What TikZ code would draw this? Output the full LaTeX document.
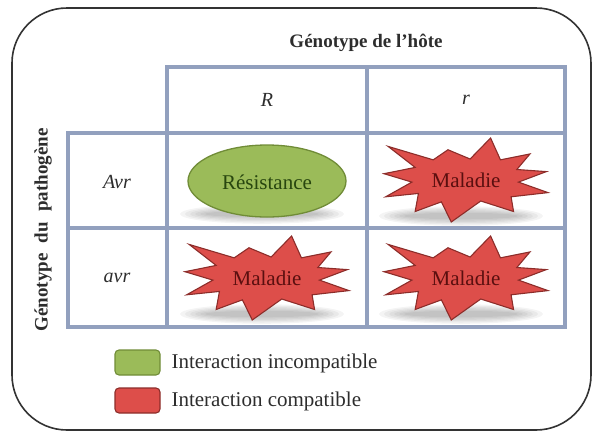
\documentclass[tikz,border=0pt]{standalone}
\usepackage{fontspec}
\setmainfont{Liberation Serif}
\usepackage{tikz}
\usepackage{xcolor}

\definecolor{grille}{RGB}{146,160,190}
\definecolor{vertR}{RGB}{155,187,89}
\definecolor{vertB}{RGB}{112,140,55}
\definecolor{vertT}{RGB}{40,70,15}
\definecolor{rougeR}{RGB}{221,78,74}
\definecolor{rougeB}{RGB}{140,45,42}
\definecolor{rougeT}{RGB}{90,15,15}
\definecolor{texte}{RGB}{45,45,45}

\begin{document}
\begin{tikzpicture}[x=1pt, y=-1pt,
    grille/.style={draw=grille, line width=3.2pt},
    titre/.style={font=\bfseries\fontsize{19}{19}\selectfont, text=texte},
    etiq/.style={font=\itshape\fontsize{20}{20}\selectfont, text=texte},
    legende/.style={font=\fontsize{21}{21}\selectfont, text=texte, anchor=west},
    ombre/.style={fill=black, opacity=0.045}]
\useasboundingbox (0,0) rectangle (595,432);

% Cadre arrondi
\draw[line width=1.6pt, draw=black!80, rounded corners=55pt] (12,8) rectangle (591,430);

% Titres des axes
\node[titre] (hote) at (366,43) {Génotype de l'hôte};
\node[titre, rotate=90] (pathogene) at (43,230)
    {\makebox[203pt][s]{Génotype du pathogène}};

% Grille du tableau
\draw[grille] (167,67) rectangle (565,327);
\draw[grille] (68,133) rectangle (565,327);
\draw[grille] (367,67) -- (367,327);
\draw[grille] (68,228) -- (565,228);

% En-tetes
\node[etiq] (hR) at (267,100) {R};
\node[etiq] (hr) at (466,100) {r};
\node[etiq] (pAvr) at (117,182) {Avr};
\node[etiq] (pavr) at (117,278) {avr};

% Ombres
\foreach \cx/\cy in {262/214, 461/216, 262/314, 461/314}
  \foreach \k in {1,...,6}
    \fill[ombre] (\cx,\cy) ellipse [x radius={52+5*\k}, y radius={2+1.3*\k}];

% Resistance (ellipse verte)
\draw[fill=vertR, draw=vertB, line width=1.3pt] (267,181) ellipse [x radius=79, y radius=36];
\node[font=\fontsize{21}{21}\selectfont, text=vertT] (resist) at (267,182) {Résistance};

% Maladie (etoiles rouges)
\foreach \cx/\cy/\nm in {466/180/malA, 267/278/malB, 466/278/malC} {
  \begin{scope}[shift={(\cx,\cy)}, xscale=82, yscale=-42]
    \draw[fill=rougeR, draw=rougeB, line width=1.1pt, line join=miter]
      (-1.00,0.15) -- (-0.62,0.30) -- (-0.95,0.80) -- (-0.40,0.48) --
      (-0.22,0.72) -- (0.05,0.50) -- (0.30,1.00) -- (0.42,0.48) --
      (0.78,0.62) -- (0.62,0.25) -- (0.98,0.20) -- (0.64,-0.05) --
      (1.00,-0.30) -- (0.55,-0.40) -- (0.58,-0.75) -- (0.18,-0.50) --
      (-0.18,-1.00) -- (-0.30,-0.52) -- (-0.62,-0.75) -- (-0.58,-0.32) --
      (-0.98,-0.40) -- (-0.66,-0.05) -- cycle;
  \end{scope}
  \node[font=\fontsize{21}{21}\selectfont, text=rougeT] (\nm) at (\cx,\cy) {Maladie};
}

% Legende
\draw[fill=vertR, draw=vertB, line width=1.1pt, rounded corners=4pt] (115,350) rectangle (160,375);
\draw[fill=rougeR, draw=rougeB, line width=1.1pt, rounded corners=4pt] (115,388) rectangle (160,413);
\node[legende] (legG) at (168,363) {Interaction incompatible};
\node[legende] (legR) at (168,401) {Interaction compatible};

\end{tikzpicture}
\end{document}
